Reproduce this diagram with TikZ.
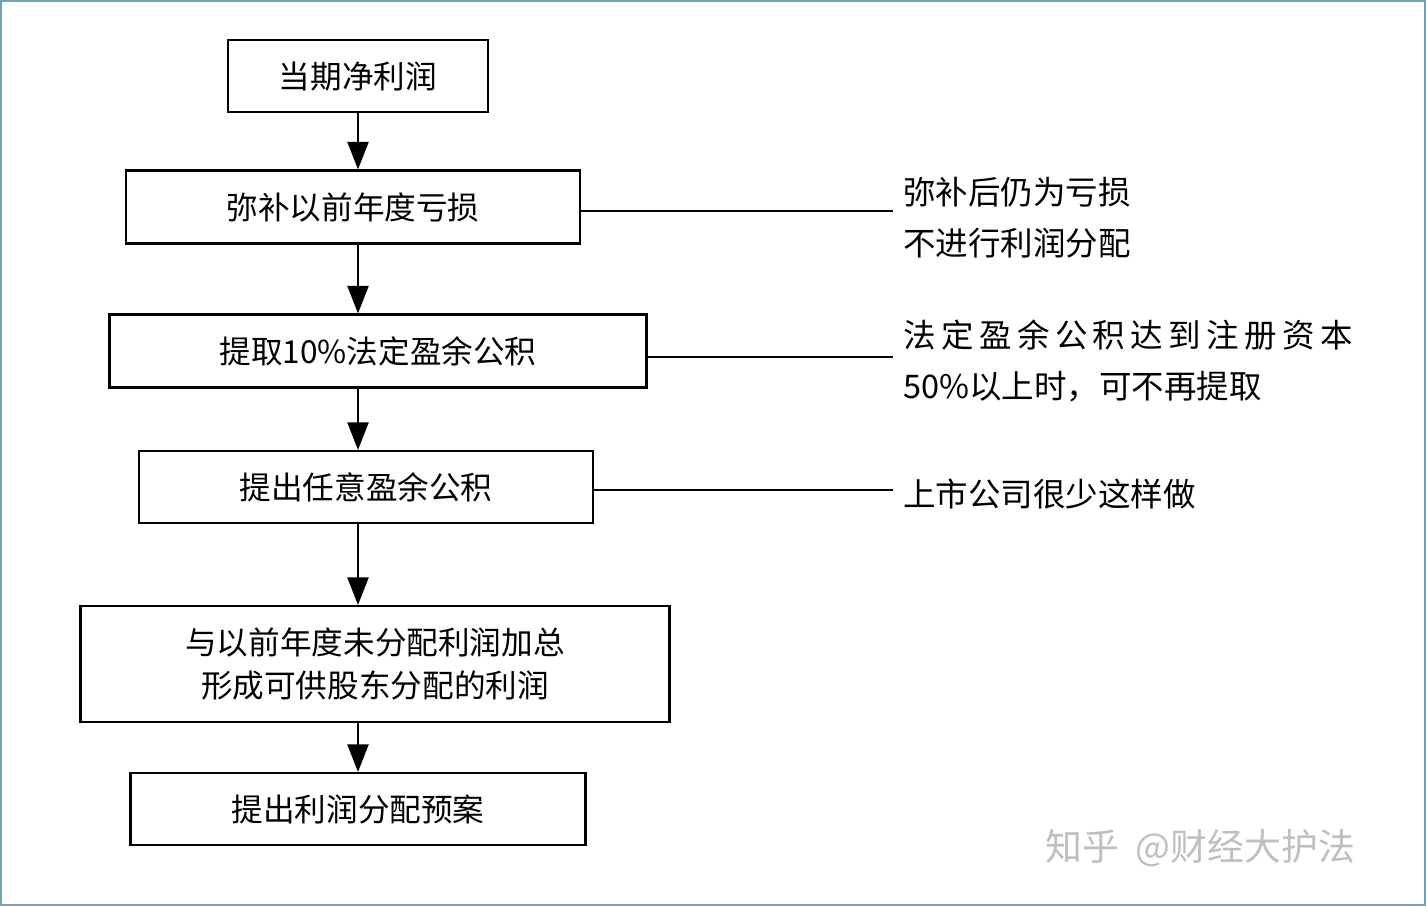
\documentclass[tikz,border=0pt]{standalone}
\usepackage{fontspec}
\setmainfont{Noto Sans CJK SC}
\usetikzlibrary{arrows.meta}
\begin{document}
\begin{tikzpicture}[x=0.02cm,y=-0.02cm,
  box/.style={draw,line width=1.2pt,inner sep=0pt,font=\fontsize{18}{25}\selectfont,align=center},
  note/.style={anchor=west,inner sep=0pt,font=\fontsize{18.5}{29}\selectfont,align=left},
  arr/.style={line width=1.2pt,-{Triangle[length=0.55cm,width=0.42cm]}},
  ln/.style={line width=1pt}]
\fill[white] (0,0) rectangle (1426,906);
\draw[cyan!40!gray,line width=1pt] (1,1) rectangle (1425,905);
\node[box,minimum width=260*0.02cm,minimum height=72*0.02cm] (b1) at (358,76) {当期净利润};
\node[box,minimum width=454*0.02cm,minimum height=73*0.02cm] (b2) at (353,207) {弥补以前年度亏损};
\node[box,minimum width=537*0.02cm,minimum height=73*0.02cm] (b3) at (378,351) {提取10\%法定盈余公积};
\node[box,minimum width=454*0.02cm,minimum height=72*0.02cm] (b4) at (366,487) {提出任意盈余公积};
\node[box,minimum width=589*0.02cm,minimum height=116*0.02cm] (b5) at (375,664) {与以前年度未分配利润加总\\形成可供股东分配的利润};
\node[box,minimum width=455*0.02cm,minimum height=72*0.02cm] (b6) at (358,809) {提出利润分配预案};
\draw[arr] (b1.south -| 358,0) -- (b2.north -| 358,0);
\draw[arr] (b2.south -| 358,0) -- (b3.north -| 358,0);
\draw[arr] (b3.south -| 358,0) -- (b4.north -| 358,0);
\draw[arr] (b4.south -| 358,0) -- (b5.north -| 358,0);
\draw[arr] (b5.south -| 358,0) -- (b6.north -| 358,0);
\node[note] (t2) at (903,218) {弥补后仍为亏损\\不进行利润分配};
\node[note] (t3) at (903,361) {法\,定\,盈\,余\,公\,积\,达\,到\,注\,册\,资\,本\\50\%以上时，可不再提取};
\node[note] (t4) at (903,494) {上市公司很少这样做};
\draw[ln] (b2.east |- 0,211) -- (893,211);
\draw[ln] (b3.east |- 0,357) -- (893,357);
\draw[ln] (b4.east |- 0,490) -- (893,490);
\node[anchor=west,inner sep=0pt,text=gray!50,font=\fontsize{21}{24}\selectfont] (wm) at (1045,848) {知乎\ \ @财经大护法};
\end{tikzpicture}
\end{document}
